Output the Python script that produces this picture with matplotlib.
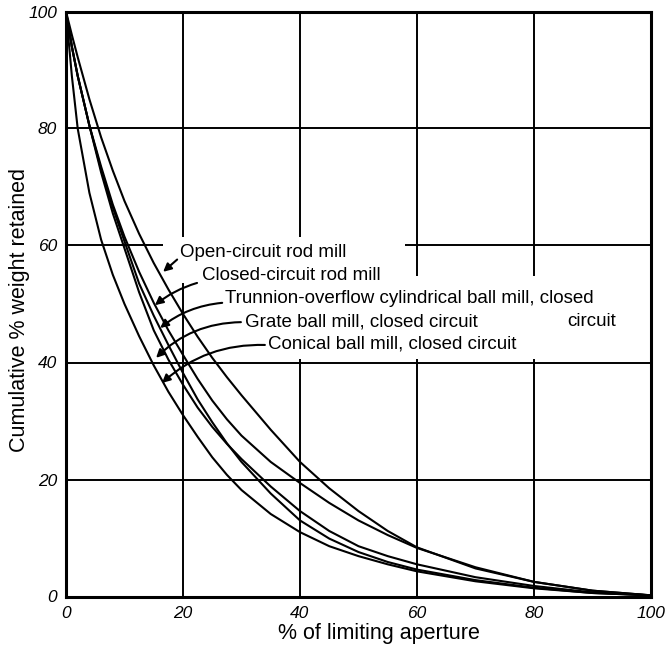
import matplotlib
matplotlib.use("Agg")
import matplotlib.pyplot as plt
from matplotlib.patches import Rectangle

# ---- data ----
x_pts = [0, 1, 2, 4, 6, 8, 10, 12.5, 15, 17.5, 20, 22.5, 25, 27.5, 30, 35, 40, 45, 50, 55, 60, 70, 80, 90, 100]
open_rod   = [100, 96, 92.2, 85, 78.5, 72.8, 67.6, 62, 57, 52.5, 48.3, 44.4, 40.8, 37.5, 34.4, 28.5, 23, 18.5, 14.6, 11.2, 8.4, 4.8, 2.5, 1, 0.2]
closed_rod = [100, 94, 89, 80.5, 73.5, 67, 61.5, 55.5, 50.2, 45.5, 41.3, 37.2, 33.5, 30.3, 27.5, 23, 19.4, 16, 13, 10.5, 8.3, 5, 2.5, 1, 0.2]
trunnion   = [100, 94, 89, 80.5, 73, 66.5, 60.7, 53.5, 48, 43, 38.2, 33.7, 29.8, 26.2, 23, 17.6, 13.0, 9.9, 7.6, 5.9, 4.6, 2.8, 1.5, 0.6, 0.2]
grate      = [100, 94, 89, 80.5, 72.5, 65.5, 59.5, 52, 45.5, 40.5, 36.2, 32.3, 29, 26.1, 23.5, 18.8, 14.6, 11.2, 8.6, 6.9, 5.5, 3.3, 1.8, 0.7, 0.2]
conical    = [100, 89, 80, 69, 61, 55, 50, 44.5, 39.5, 35, 31, 27.3, 23.8, 20.8, 18.2, 14.1, 11, 8.6, 6.9, 5.5, 4.3, 2.6, 1.4, 0.6, 0.2]

series = [open_rod, closed_rod, trunnion, grate, conical]
labels = ["Open-circuit rod mill", "Closed-circuit rod mill",
          "Trunnion-overflow cylindrical ball mill, closed",
          "Grate ball mill, closed circuit", "Conical ball mill, closed circuit"]
ticks = [0, 20, 40, 60, 80, 100]
tick_labels = ["0", "20", "40", "60", "80", "100"]

plt.rcParams['font.family'] = ['Liberation Sans', 'DejaVu Sans']

W, H = 671, 648
fig = plt.figure(figsize=(W / 100, H / 100), dpi=100)
ax = fig.add_axes([66 / W, 51.5 / H, 585 / W, 585 / H])
ax.set_xlim(0, 100)
ax.set_ylim(0, 100)

# grid
for t in ticks[1:-1]:
    ax.axhline(t, color='black', lw=1.4, zorder=1)
    ax.axvline(t, color='black', lw=1.4, zorder=1)

# white areas behind the labels (grid broken there)
for (x0, y0, w, h) in [(16.6, 58.5, 41.4, 3.0), (19.0, 53.6, 2.5, 7.5),
                       (22.0, 40.6, 77.5, 14.2), (38.5, 54.0, 3.0, 7.5)]:
    ax.add_patch(Rectangle((x0, y0), w, h, facecolor='white', edgecolor='none', zorder=2))

for s in series:
    ax.plot(x_pts, s, color='black', lw=1.5, zorder=3, solid_joinstyle='round')

for sp in ax.spines.values():
    sp.set_linewidth(2.2)
    sp.set_zorder(4)

ax.set_xticks(ticks)
ax.set_yticks(ticks)
ax.set_xticklabels(tick_labels, style='italic', fontsize=12.5)
ax.set_yticklabels(tick_labels, style='italic', fontsize=12.5)
ax.tick_params(length=0)
ax.tick_params(axis='x', pad=7)
ax.tick_params(axis='y', pad=6.5)

fig.text(379 / W, 1 - 633 / H, "% of limiting aperture", fontsize=15.5,
         ha='center', va='center')
fig.text(20 / W, 1 - 310 / H, "Cumulative % weight retained", fontsize=15.5,
         ha='center', va='center', rotation=90)

# annotations
txt_pos = [(19.5, 58.8), (23.2, 54.9), (27.2, 51.0), (30.6, 47.0), (34.5, 43.1)]
tails = [(19.0, 57.6), (22.4, 53.6), (26.7, 50.2), (29.9, 46.9), (34.0, 43.0)]
tips = [(16.6, 55.5), (15.2, 49.8), (16.1, 45.9), (15.4, 40.8), (16.4, 36.5)]
rads = [0.0, 0.1, 0.15, 0.2, 0.2]
for lab, tp, tl, tip, r in zip(labels, txt_pos, tails, tips, rads):
    ax.text(tp[0], tp[1], lab, fontsize=13.5, ha='left', va='center', zorder=5)
    ax.annotate("", xy=tip, xytext=tl,
                arrowprops=dict(arrowstyle='-|>', color='black', lw=1.5,
                                mutation_scale=12,
                                connectionstyle=f"arc3,rad={r}",
                                shrinkA=0, shrinkB=0), zorder=5)
ax.text(85.6, 47.0, "circuit", fontsize=13.5, ha='left', va='center', zorder=5)

fig.savefig("out.png", dpi=100)
